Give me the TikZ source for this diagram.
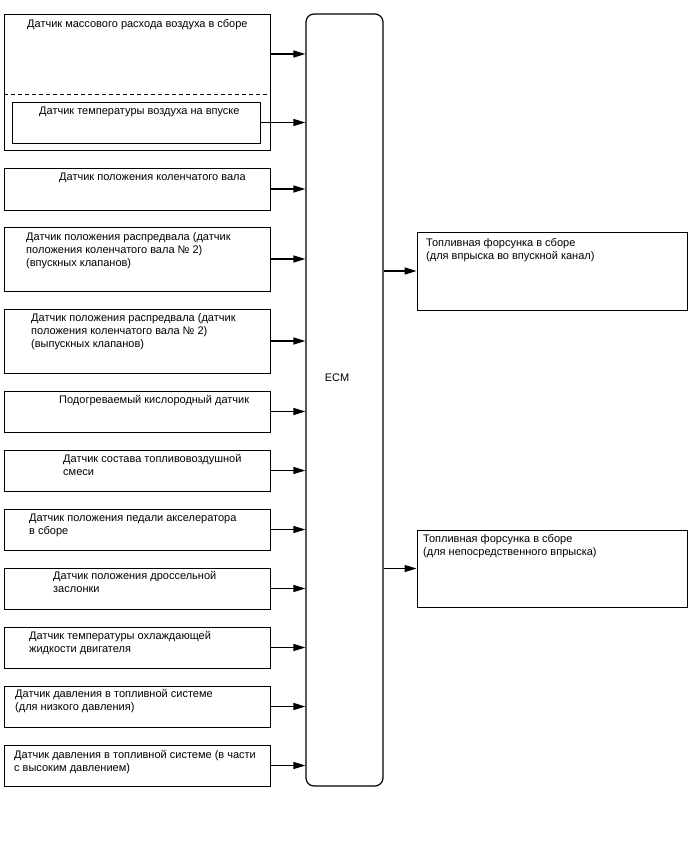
\documentclass[tikz,border=0pt]{standalone}
\usepackage{fontspec}
\setmainfont{Liberation Sans}
\usetikzlibrary{arrows.meta,fit}
\begin{document}
\begin{tikzpicture}[x=1pt,y=-1pt,
 box/.style={draw, line width=0.9pt, inner sep=0pt},
 txt/.style={anchor=base west, inner sep=0pt, align=left, font=\fontsize{11}{13}\selectfont},
 sig/.style={line width=1.3pt, -{Triangle[length=12pt,width=7pt]}}]
\useasboundingbox (0,0) rectangle (688,852);
% sensor boxes
\node[box, fit={(4,14) (270,150)}] (maf) {};
\node[box, fit={(12,102) (260,143)}] (iat) {};
\node[box, fit={(4,168) (270,210)}] (ckp) {};
\node[box, fit={(4,227) (270,291)}] (cmpin) {};
\node[box, fit={(4,309) (270,373)}] (cmpex) {};
\node[box, fit={(4,391) (270,432)}] (oxs) {};
\node[box, fit={(4,450) (270,491)}] (afs) {};
\node[box, fit={(4,509) (270,550)}] (app) {};
\node[box, fit={(4,568) (270,609)}] (tps) {};
\node[box, fit={(4,627) (270,668)}] (ect) {};
\node[box, fit={(4,686) (270,727)}] (fpl) {};
\node[box, fit={(4,745) (270,786)}] (fph) {};
% ECM
\node[box, line width=1.2pt, rounded corners=8pt, fit={(306,14) (383,786)}] (ecm) {};
% injectors
\node[box, fit={(417,232) (687,310)}] (injp) {};
\node[box, fit={(417,530) (687,607)}] (injd) {};
% dashed separator
\draw[line width=0.9pt, dash pattern=on 4pt off 3pt] (4,94) -- (270,94);
% texts (anchor = baseline of the last line)
\node[txt] (tmaf) at (27,27) {Датчик массового расхода воздуха в сборе};
\node[txt] (tiat) at (39,114) {Датчик температуры воздуха на впуске};
\node[txt] (tckp) at (59,180) {Датчик положения коленчатого вала};
\node[txt] (tcmpin) at (26,266) {Датчик положения распредвала (датчик\\положения коленчатого вала № 2)\\(впускных клапанов)};
\node[txt] (tcmpex) at (31,347) {Датчик положения распредвала (датчик\\положения коленчатого вала № 2)\\(выпускных клапанов)};
\node[txt] (toxs) at (59,403) {Подогреваемый кислородный датчик};
\node[txt] (tafs) at (63,475) {Датчик состава топливовоздушной\\смеси};
\node[txt] (tapp) at (29,534) {Датчик положения педали акселератора\\в сборе};
\node[txt] (ttps) at (53,592) {Датчик положения дроссельной\\заслонки};
\node[txt] (tect) at (29,652) {Датчик температуры охлаждающей\\жидкости двигателя};
\node[txt] (tfpl) at (15,710) {Датчик давления в топливной системе\\(для низкого давления)};
\node[txt] (tfph) at (14,771) {Датчик давления в топливной системе (в части\\с высоким давлением)};
\node[txt] (tinjp) at (426,259) {Топливная форсунка в сборе\\(для впрыска во впускной канал)};
\node[txt] (tinjd) at (423,555) {Топливная форсунка в сборе\\(для непосредственного впрыска)};
\node[inner sep=0pt, font=\fontsize{11}{13}\selectfont] (tecm) at (337,378) {ECM};
% signals
\coordinate (mafsig) at (270,54);
\draw[sig] (mafsig) -- (ecm.west |- mafsig);
\foreach \s in {iat,ckp,cmpin,cmpex,oxs,afs,app,tps,ect,fpl,fph}
  \draw[sig] (\s.east) -- (ecm.west |- \s.east);
\draw[sig] (ecm.east |- injp.west) -- (injp.west);
\draw[sig] (ecm.east |- injd.west) -- (injd.west);
\end{tikzpicture}
\end{document}
